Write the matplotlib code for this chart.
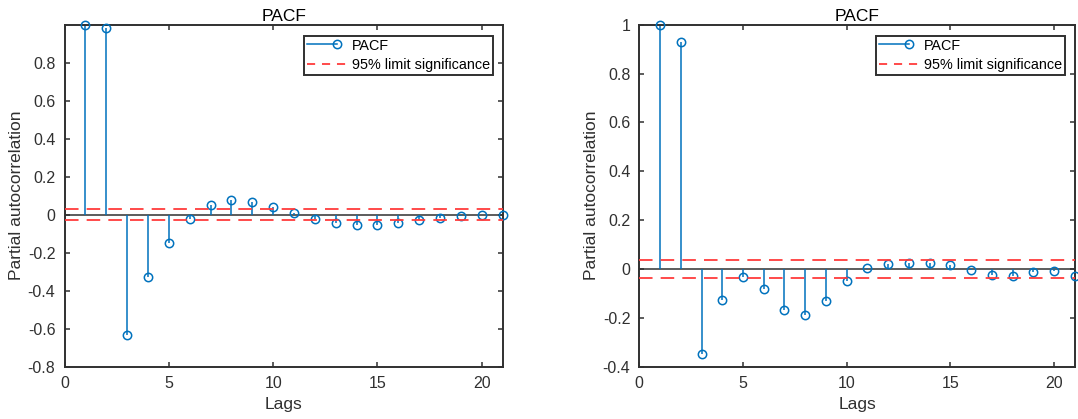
import matplotlib
matplotlib.use("Agg")
import matplotlib.pyplot as plt
from matplotlib.lines import Line2D
from matplotlib.legend_handler import HandlerBase

plt.rcParams["font.family"] = ["Liberation Sans", "DejaVu Sans"]

lags = list(range(1, 22))

pacf_a = [1.0, 0.981, -0.632, -0.330, -0.147, -0.024, 0.051, 0.076, 0.068, 0.042,
          0.007, -0.023, -0.042, -0.053, -0.053, -0.042, -0.030, -0.017, -0.009,
          -0.004, -0.002]
bound_a = 0.030

pacf_b = [1.0, 0.928, -0.350, -0.125, -0.034, -0.083, -0.169, -0.188, -0.131, -0.049,
          0.005, 0.019, 0.023, 0.024, 0.016, -0.004, -0.024, -0.029, -0.014,
          -0.009, -0.027]
bound_b = 0.035

yticks_a = [-0.8, -0.6, -0.4, -0.2, 0, 0.2, 0.4, 0.6, 0.8]
ylabels_a = ["-0.8", "-0.6", "-0.4", "-0.2", "0", "0.2", "0.4", "0.6", "0.8"]
yticks_b = [-0.4, -0.2, 0, 0.2, 0.4, 0.6, 0.8, 1]
ylabels_b = ["-0.4", "-0.2", "0", "0.2", "0.4", "0.6", "0.8", "1"]
xticks = [0, 5, 10, 15, 20]

BLUE = "#0072BD"
RED = "#FF3B3B"
DARK = "#303030"
DASH = (0, (7.5, 4.5))


class StemLegend(HandlerBase):
    # short line ending in an open circle, the usual stem legend icon
    def create_artists(self, legend, orig_handle, xdescent, ydescent,
                       width, height, fontsize, trans):
        y = height / 2 - ydescent
        x_end = -xdescent + 0.72 * width
        line = Line2D([-xdescent, x_end], [y, y], color=BLUE, lw=1.1)
        dot = Line2D([x_end], [y], marker="o", ms=6, mfc="none",
                     mec=BLUE, mew=1.1, ls="none")
        line.set_transform(trans)
        dot.set_transform(trans)
        return [line, dot]


def pacf_panel(ax, values, bound, ylim, yticks, ylabels):
    ax.vlines(lags, 0, values, color=BLUE, lw=1.1, zorder=2)
    ax.plot(lags, values, ls="none", marker="o", ms=6, mfc="none",
            mec=BLUE, mew=1.1, zorder=3, clip_on=False)
    ax.axhline(0, color=DARK, lw=1.1, zorder=1)
    ax.axhline(bound, color=RED, lw=1.3, ls=DASH, zorder=4)
    ax.axhline(-bound, color=RED, lw=1.3, ls=DASH, zorder=4)

    ax.set_xlim(0, 21)
    ax.set_ylim(*ylim)
    ax.set_xticks(xticks)
    ax.set_yticks(yticks)
    ax.set_yticklabels(ylabels)
    ax.tick_params(direction="in", length=3.5, width=1.1, color=DARK,
                   labelcolor=DARK, labelsize=11.5, top=True, right=True)
    ax.tick_params(axis="y", pad=6.5)
    ax.tick_params(axis="x", pad=7)
    for sp in ax.spines.values():
        sp.set_color(DARK)
        sp.set_linewidth(1.4)

    ax.set_title("PACF", fontsize=12.5, color="black", pad=3)
    ax.set_xlabel("Lags", fontsize=12.5, color=DARK, labelpad=4)
    ax.set_ylabel("Partial autocorrelation", fontsize=12.5, color=DARK, labelpad=2.5)

    stem_h = Line2D([], [], color=BLUE)
    bound_h = Line2D([], [], color=RED, lw=1.3, ls=(0, (4.5, 3.8)))
    leg = ax.legend([stem_h, bound_h], ["PACF", "95% limit significance"],
                    handler_map={stem_h: StemLegend()}, loc="upper right",
                    bbox_to_anchor=(0.977, 0.968), fontsize=10.4, handlelength=2.9,
                    handletextpad=0.2, labelspacing=0.36, borderpad=0.2,
                    borderaxespad=0.0, fancybox=False, framealpha=1.0)
    leg.get_frame().set_edgecolor(DARK)
    leg.get_frame().set_linewidth(1.4)


fig = plt.figure(figsize=(10.78, 4.19), dpi=100)
ax1 = fig.add_axes([64.5 / 1078, 52.3 / 419, 438.2 / 1078, 342 / 419])
ax2 = fig.add_axes([639.3 / 1078, 52.3 / 419, 435.4 / 1078, 342 / 419])

pacf_panel(ax1, pacf_a, bound_a, (-0.8, 1.0), yticks_a, ylabels_a)
pacf_panel(ax2, pacf_b, bound_b, (-0.4, 1.0), yticks_b, ylabels_b)

fig.savefig("out.png", dpi=100)
